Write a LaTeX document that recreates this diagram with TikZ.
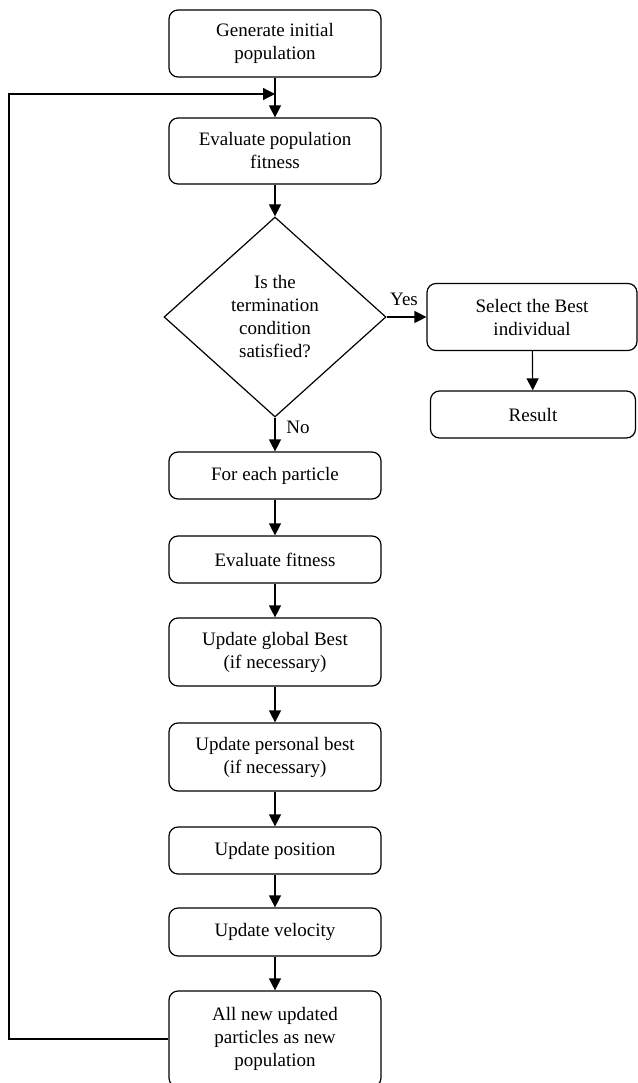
\documentclass[tikz,border=0pt]{standalone}
\usepackage{fontspec}
\setmainfont{Liberation Serif}
\usetikzlibrary{shapes.geometric,arrows.meta}
\begin{document}
\begin{tikzpicture}[x=1pt,y=-1pt,
  box/.style={draw,line width=1.2pt,rounded corners=9pt,minimum width=212pt,align=center,inner sep=0pt,font=\fontsize{19}{23}\selectfont},
  dia/.style={draw,line width=1.2pt,diamond,minimum width=222pt,minimum height=200pt,inner sep=0pt,align=center,font=\fontsize{19}{23}\selectfont},
  arr/.style={line width=1.2pt,-{Triangle[width=12pt,length=12pt]}},
  lbl/.style={font=\fontsize{19}{23}\selectfont,inner sep=0pt}]
\useasboundingbox (0,0) rectangle (637,1083);
\node[box,minimum height=67pt] (gen) at (275,43.5) {Generate initial\\population};
\node[box,minimum height=66pt] (evp) at (275,151) {Evaluate population\\fitness};
\node[dia] (term) at (275,317) {Is the\\termination\\condition\\satisfied?};
\node[box,minimum width=210pt,minimum height=67pt] (sel) at (532,317) {Select the Best\\individual};
\node[box,minimum width=205pt,minimum height=47pt] (res) at (533,414.5) {Result};
\node[box,minimum height=47pt] (each) at (275,475.5) {For each particle};
\node[box,minimum height=47pt] (evf) at (275,559.5) {Evaluate fitness};
\node[box,minimum height=68pt] (glob) at (275,652) {Update global Best\\(if necessary)};
\node[box,minimum height=68pt] (pers) at (275,757) {Update personal best\\(if necessary)};
\node[box,minimum height=47pt] (pos) at (275,850.5) {Update position};
\node[box,minimum height=48pt] (vel) at (275,932) {Update velocity};
\node[box,minimum height=96pt] (alln) at (275,1039) {All new updated\\particles as new\\population};
\node[lbl] (yes) at (404,299) {Yes};
\node[lbl] (no) at (298,427) {No};
\coordinate (L1) at (9,1039);
\coordinate (L2) at (9,94);
\coordinate (J) at (275,94);
\draw[arr] (gen) -- (evp);
\draw[arr] (evp) -- (term);
\draw[arr] (term.east) -- (sel.west);
\draw[arr] (sel) -- (res);
\draw[arr] (term.south) -- (each);
\draw[arr] (each) -- (evf);
\draw[arr] (evf) -- (glob);
\draw[arr] (glob) -- (pers);
\draw[arr] (pers) -- (pos);
\draw[arr] (pos) -- (vel);
\draw[arr] (vel) -- (alln);
\draw[arr] (alln.west) -- (L1) -- (L2) -- (J);
\end{tikzpicture}
\end{document}
